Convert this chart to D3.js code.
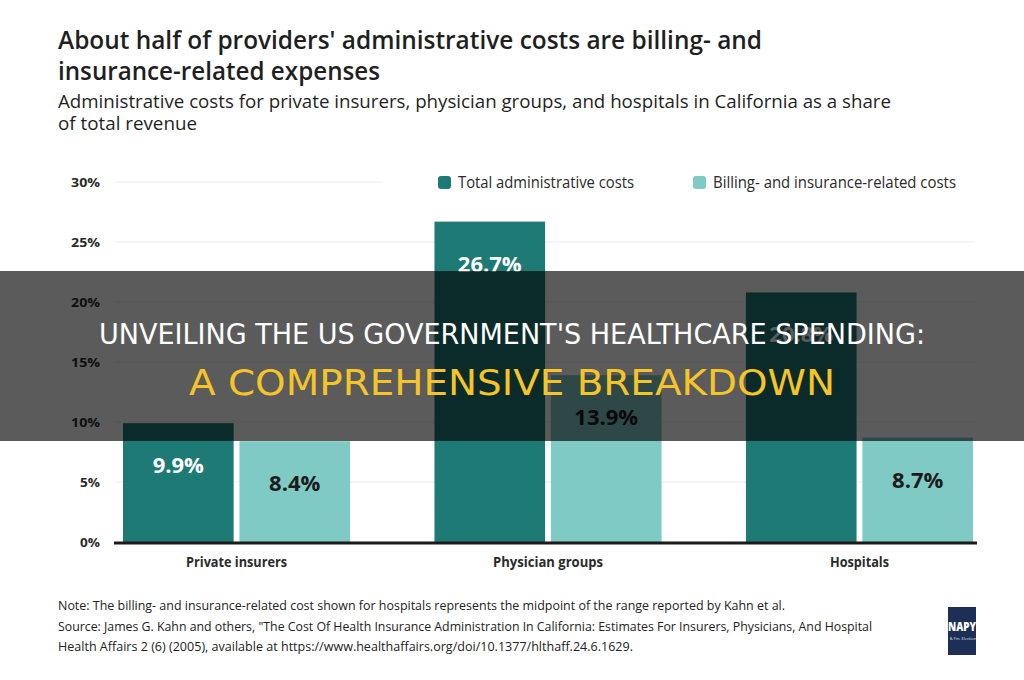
<!DOCTYPE html>
<html><head><meta charset="utf-8">
<script src="https://cdn.jsdelivr.net/npm/d3@7"></script>
<style>
html,body{margin:0;padding:0;background:#fff;}
svg{display:block;}
</style></head>
<body>
<svg id="chart" width="1024" height="680"></svg>
<script>
const categories = ["Private insurers", "Physician groups", "Hospitals"];
const seriesNames = ["Total administrative costs", "Billing- and insurance-related costs"];
const totalCosts = [9.9, 26.7, 20.8];
const billingCosts = [8.4, 13.9, 8.7];
const yTicks = [0, 5, 10, 15, 20, 25, 30];
const titleLines = ["About half of providers' administrative costs are billing- and", "insurance-related expenses"];
const subtitleLines = ["Administrative costs for private insurers, physician groups, and hospitals in California as a share", "of total revenue"];
const noteLines = [
  "Note: The billing- and insurance-related cost shown for hospitals represents the midpoint of the range reported by Kahn et al.",
  "Source: James G. Kahn and others, \"The Cost Of Health Insurance Administration In California: Estimates For Insurers, Physicians, And Hospital",
  "Health Affairs 2 (6) (2005), available at https://www.healthaffairs.org/doi/10.1377/hlthaff.24.6.1629."
];
const overlayLines = ["UNVEILING THE US GOVERNMENT'S HEALTHCARE SPENDING:", "A COMPREHENSIVE BREAKDOWN"];

const colors = ["#1e7a74", "#7fcac5"];
const labelColors = ["#ffffff", "#1b1b1b"];
const font = "'Open Sans', 'Noto Sans', sans-serif";

const svg = d3.select("#chart");

// Titles
const tl = [{t:titleLines[0], y:49, w:704},{t:titleLines[1], y:80, w:322}];
svg.selectAll("text.title").data(tl).join("text")
  .attr("x", 58).attr("y", d=>d.y).attr("font-family", font).attr("font-weight", 600)
  .attr("font-size", 25).attr("fill", "#1f1f1f")
  .attr("textLength", d=>d.w).attr("lengthAdjust", "spacingAndGlyphs").text(d=>d.t);
const sl = [{t:subtitleLines[0], y:108, w:833},{t:subtitleLines[1], y:130, w:139}];
svg.selectAll("text.sub").data(sl).join("text")
  .attr("x", 58).attr("y", d=>d.y).attr("font-family", font).attr("font-weight", 400)
  .attr("font-size", 18.5).attr("fill", "#1f1f1f")
  .attr("textLength", d=>d.w).attr("lengthAdjust", "spacingAndGlyphs").text(d=>d.t);

// Scales
const x0 = d3.scaleBand().domain(categories).range([123, 973]).paddingInner(0.271).paddingOuter(0);
const x1 = d3.scaleBand().domain(seriesNames).range([0, x0.bandwidth()]).paddingInner(0.05);
const y = d3.scaleLinear().domain([0, 30]).range([542, 182]);

// Grid lines
svg.append("g").selectAll("line").data(yTicks.filter(t=>t>0)).join("line")
  .attr("x1", 116).attr("x2", d=> d===30 ? 383 : 975)
  .attr("y1", d=>y(d)).attr("y2", d=>y(d))
  .attr("stroke", "#ebebeb").attr("stroke-width", 1.2);

// Y axis labels
const yAxis = d3.axisLeft(y).tickValues(yTicks).tickFormat(d=>d+"%").tickSize(0).tickPadding(0);
const yg = svg.append("g").attr("transform", "translate(100,0)").call(yAxis);
yg.select(".domain").remove();
yg.selectAll("text").attr("font-family", font).attr("font-weight", 700).attr("font-size", 12.5)
  .attr("fill", "#2a2a2a").attr("textLength", d=> d>=10 ? 29 : 20).attr("lengthAdjust","spacingAndGlyphs");

// Bars
const rows = categories.map((c,i)=>({cat:c, vals:[
  {s:seriesNames[0], v:totalCosts[i], k:0},
  {s:seriesNames[1], v:billingCosts[i], k:1}]}));
const groups = svg.append("g").selectAll("g").data(rows).join("g")
  .attr("transform", d=>`translate(${x0(d.cat)},0)`);
groups.selectAll("rect").data(d=>d.vals).join("rect")
  .attr("x", d=>x1(d.s)).attr("width", x1.bandwidth())
  .attr("y", d=>y(d.v)).attr("height", d=>y(0)-y(d.v))
  .attr("fill", d=>colors[d.k]);
groups.selectAll("text").data(d=>d.vals).join("text")
  .attr("x", d=>x1(d.s)+x1.bandwidth()/2).attr("y", d=>y(d.v)+42)
  .attr("dy", "0.36em").attr("text-anchor", "middle")
  .attr("font-family", font).attr("font-weight", 700).attr("font-size", 22)
  .attr("fill", d=>labelColors[d.k]).text(d=>d.v.toFixed(1)+"%");

// Baseline axis
svg.append("line").attr("x1", 114).attr("x2", 977).attr("y1", y(0)+1).attr("y2", y(0)+1)
  .attr("stroke", "#1a1a1a").attr("stroke-width", 3);

// Category labels
const xAxis = d3.axisBottom(x0).tickSize(0).tickPadding(0);
const xg = svg.append("g").attr("transform", `translate(0,${y(0)+13})`).call(xAxis);
xg.select(".domain").remove();
const catW = {"Private insurers":101, "Physician groups":110, "Hospitals":59};
xg.selectAll("text").attr("font-family", font).attr("font-weight", 700).attr("font-size", 13.5)
  .attr("fill", "#2a2a2a").attr("dy", "0.9em")
  .attr("textLength", d=>catW[d]).attr("lengthAdjust","spacingAndGlyphs");

// Legend
const legend = [{n:seriesNames[0], x:438, w:176},{n:seriesNames[1], x:693, w:243}];
const lg = svg.append("g").selectAll("g").data(legend).join("g")
  .attr("transform", d=>`translate(${d.x},176)`);
lg.append("rect").attr("width", 13).attr("height", 13).attr("rx", 3)
  .attr("fill", (d,i)=>colors[i]);
lg.append("text").attr("x", 20).attr("y", 11.5).attr("font-family", font).attr("font-size", 16)
  .attr("fill", "#2a2a2a").attr("textLength", d=>d.w).attr("lengthAdjust","spacingAndGlyphs").text(d=>d.n);

// Footnotes
const nl = [{t:noteLines[0], y:610, w:727},{t:noteLines[1], y:631, w:814},{t:noteLines[2], y:651, w:575}];
svg.selectAll("text.note").data(nl).join("text")
  .attr("x", 58).attr("y", d=>d.y).attr("font-family", font).attr("font-size", 13)
  .attr("fill", "#222").attr("textLength", d=>d.w).attr("lengthAdjust","spacingAndGlyphs").text(d=>d.t);

// Logo
svg.append("rect").attr("x", 948).attr("y", 607).attr("width", 28).attr("height", 48).attr("fill", "#1d2f57");
svg.append("text").attr("x", 962).attr("y", 631).attr("text-anchor","middle").attr("font-family", font)
  .attr("font-weight", 800).attr("font-size", 12).attr("fill", "#fff")
  .attr("textLength", 28).attr("lengthAdjust","spacingAndGlyphs").text("NAPY");
svg.append("text").attr("x", 963).attr("y", 640).attr("text-anchor","middle").attr("font-family", font)
  .attr("font-size", 4).attr("fill", "#dfe6f2").text("& Fin. Election");

// Overlay band
svg.append("rect").attr("x", 0).attr("y", 271).attr("width", 1024).attr("height", 170)
  .attr("fill", "#000").attr("fill-opacity", 0.645);
const ol = [{t:overlayLines[0], y:344, w:826, fs:28, c:"#ffffff"},{t:overlayLines[1], y:395, w:646, fs:36, c:"#f5c428"}];
svg.selectAll("text.ov").data(ol).join("text")
  .attr("x", 512).attr("y", d=>d.y).attr("text-anchor", "middle")
  .attr("font-family", "'Liberation Sans Narrow', 'DejaVu Sans Condensed', 'Roboto', sans-serif")
  .attr("font-size", d=>d.fs)
  .attr("fill", d=>d.c).attr("textLength", d=>d.w).attr("lengthAdjust","spacingAndGlyphs").text(d=>d.t);
</script>
</body></html>
